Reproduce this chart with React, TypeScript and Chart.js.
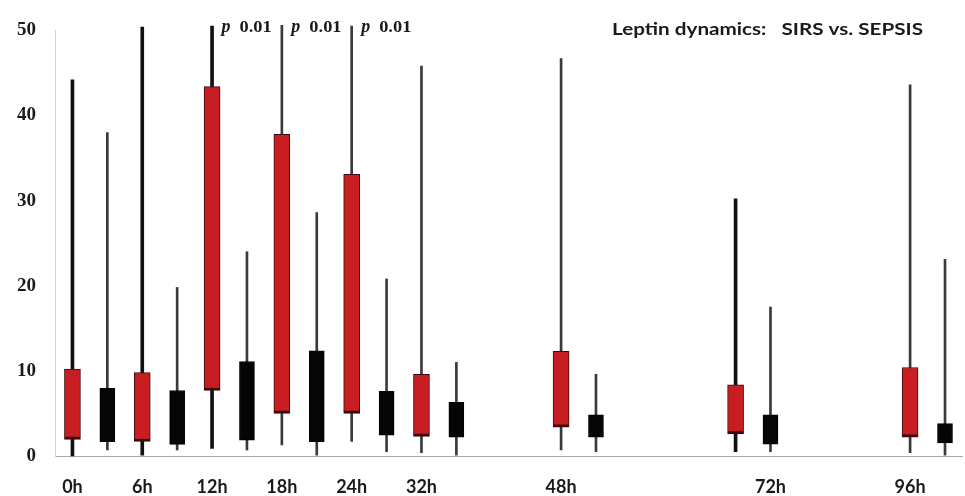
import React, { useEffect, useRef } from "react";
import { Chart, registerables } from "chart.js";

Chart.register(...registerables);

// ---- data ----
const timeLabels = ["0h", "6h", "12h", "18h", "24h", "32h", "48h", "72h", "96h"];

// red series
const sepsisMin = [0, 0.1, 0.9, 1.3, 1.7, 0.4, 0.7, 0.5, 0.4];
const sepsisQ1 = [1.95, 1.7, 7.7, 5.0, 5.0, 2.3, 3.4, 2.6, 2.2];
const sepsisQ3 = [10.2, 9.8, 43.4, 37.8, 33.1, 9.6, 12.3, 8.35, 10.4];
const sepsisMax = [44.2, 50.4, 50.5, 50.6, 50.5, 45.8, 46.7, 30.2, 43.6];

// black series
const sirsMin = [0.7, 0.7, 0.7, 0.1, 0.5, 0.1, 0.5, 0.5, 0.1];
const sirsQ1 = [1.67, 1.36, 1.86, 1.67, 2.45, 2.2, 2.2, 1.4, 1.55];
const sirsQ3 = [7.96, 7.7, 11.1, 12.35, 7.6, 6.3, 4.85, 4.85, 3.8];
const sirsMax = [38.0, 19.8, 24.0, 28.6, 20.8, 11.0, 9.6, 17.5, 23.1];

// category slots on the x axis (26 slots), box slot per time point
const sepsisSlot = [0, 2, 4, 6, 8, 10, 14, 19, 24];
const sirsSlot = [1, 3, 5, 7, 9, 11, 15, 20, 25];
const xTickLabels = [
  "0h", "", "6h", "", "12h", "", "18h", "", "24h", "", "32h", "", "", "",
  "48h", "", "", "", "", "", "72h", "", "", "", "96h", "",
];

// significance annotations (time point index)
const pTimeIndex = [2, 3, 4];
const pLabel = "p";
const pText = "0.01";
const titleText = "Leptin dynamics:   SIRS vs. SEPSIS";

// whisker styles
const sepsisWhiskerThick = [true, true, true, false, false, false, false, true, false];

const NSLOTS = xTickLabels.length;

function slotArray(slots: number[], lo: number[], hi: number[], filter?: (i: number) => boolean) {
  const arr: any[] = new Array(NSLOTS).fill(null);
  slots.forEach((s, i) => {
    if (!filter || filter(i)) arr[s] = [lo[i], hi[i]];
  });
  return arr;
}

const annotationPlugin = {
  id: "annot",
  afterDatasetsDraw(chart: any) {
    const { ctx, scales } = chart;
    const x = scales.x;
    const y = scales.y;
    ctx.save();
    ctx.fillStyle = "#1a1a1a";
    ctx.textBaseline = "alphabetic";
    ctx.textAlign = "left";
    pTimeIndex.forEach((ti) => {
      const px = x.getPixelForValue(sepsisSlot[ti]) + 9.5;
      const py = y.getPixelForValue(50) + 2;
      ctx.font = "italic bold 18px 'Liberation Serif'";
      ctx.fillText(pLabel, px, py);
      ctx.save();
      ctx.translate(px + 18, py);
      ctx.scale(1.15, 1);
      ctx.font = "bold 16px 'Liberation Serif'";
      ctx.fillText(pText, 0, 0);
      ctx.restore();
    });
    ctx.save();
    ctx.font = "bold 17px Lato";
    const w = ctx.measureText(titleText).width;
    ctx.translate(612, 35);
    ctx.scale(311 / w, 1);
    ctx.fillText(titleText, 0, 0);
    ctx.restore();
    ctx.restore();
  },
};

export default function App() {
  const ref = useRef<HTMLCanvasElement>(null);
  useEffect(() => {
    if (!ref.current) return;
    const red = "#c81e23";
    const datasets: any[] = [
      {
        label: "SEPSIS box",
        data: slotArray(sepsisSlot, sepsisQ1, sepsisQ3),
        backgroundColor: red,
        borderColor: "#3d0a0a",
        borderWidth: { top: 1, left: 1, right: 1, bottom: 3 },
        borderSkipped: false,
        barThickness: 16,
        grouped: false,
        order: 1,
      },
      {
        label: "SIRS box",
        data: slotArray(sirsSlot, sirsQ1, sirsQ3),
        backgroundColor: "#050505",
        borderColor: "#000000",
        borderWidth: 1,
        borderSkipped: false,
        barThickness: 15,
        grouped: false,
        order: 1,
      },
      {
        label: "SEPSIS whisker thick",
        data: slotArray(sepsisSlot, sepsisMin, sepsisMax, (i) => sepsisWhiskerThick[i]),
        backgroundColor: "#111111",
        borderWidth: 0,
        barThickness: 3,
        grouped: false,
        clip: false,
        order: 2,
      },
      {
        label: "SEPSIS whisker thin",
        data: slotArray(sepsisSlot, sepsisMin, sepsisMax, (i) => !sepsisWhiskerThick[i]),
        backgroundColor: "#3a3a3a",
        borderWidth: 0,
        barThickness: 2,
        grouped: false,
        clip: false,
        order: 2,
      },
      {
        label: "SIRS whisker",
        data: slotArray(sirsSlot, sirsMin, sirsMax),
        backgroundColor: "#3a3a3a",
        borderWidth: 0,
        barThickness: 2,
        grouped: false,
        clip: false,
        order: 2,
      },
    ];
    const chart = new Chart(ref.current, {
      type: "bar",
      data: { labels: xTickLabels, datasets },
      options: {
        responsive: false,
        animation: false,
        devicePixelRatio: 1,
        layout: { padding: { top: 27, right: 0, bottom: 0, left: 0 } },
        plugins: { legend: { display: false }, tooltip: { enabled: false } },
        scales: {
          x: {
            type: "category",
            offset: true,
            grid: { display: false, drawTicks: false },
            border: { display: true, color: "#a8a8a8", width: 1 },
            ticks: {
              autoSkip: false,
              maxRotation: 0,
              minRotation: 0,
              padding: 20,
              color: "#1a1a1a",
              font: { family: "Lato", weight: "bold", size: 18 },
            },
            afterFit: (s: any) => {
              s.height = 40;
            },
          },
          y: {
            min: 0,
            max: 50,
            grid: { display: false, drawTicks: false },
            border: { display: true, color: "#d4d4d4", width: 1 },
            ticks: {
              stepSize: 10,
              padding: 19,
              color: "#1a1a1a",
              font: { family: "Liberation Serif", weight: "bold", size: 19 },
            },
            afterFit: (s: any) => {
              s.width = 55;
            },
          },
        },
      } as any,
      plugins: [annotationPlugin],
    });
    return () => chart.destroy();
  }, []);
  return (
    <div style={{ position: "absolute", left: 0, top: 0, width: 965, height: 496, background: "#fff" }}>
      <canvas ref={ref} width={965} height={496} />
    </div>
  );
}
